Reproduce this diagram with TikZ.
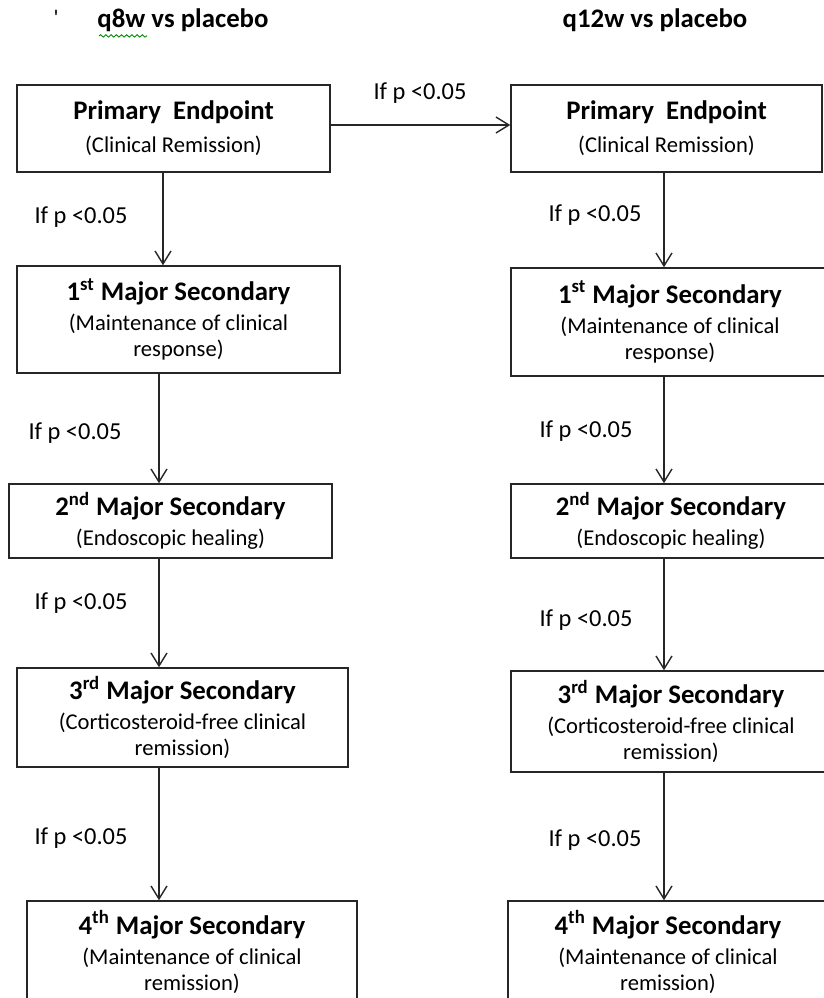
\documentclass[tikz,border=0pt]{standalone}
\usepackage{fontspec}
\setmainfont{Carlito}
\newfontfamily\rawfont{Carlito}[Ligatures=TeXOff]
\usetikzlibrary{arrows.meta,decorations.pathmorphing}
\tikzset{
  box/.style={draw=black!85, line width=0.75pt, inner sep=0pt, align=center,
    font=\fontsize{11.3}{13}\selectfont},
  arr/.style={draw=black!85, line width=0.7pt, -{Straight Barb[length=6.5pt,width=8pt,line width=0.7pt]}},
  lbl/.style={inner sep=0pt, font=\fontsize{12.2}{14}\selectfont},
  ttl/.style={inner sep=0pt, font=\fontsize{13.4}{16}\selectfont\bfseries},
}
\newcommand{\bt}[1]{{\fontsize{13.4}{15}\selectfont\bfseries #1}}
\begin{document}
\begin{tikzpicture}[x=0.5pt,y=-0.5pt]
\useasboundingbox (0,0) rectangle (824,998);
\clip (0,0) rectangle (824,998);
% titles
\node[inner sep=0pt, font=\rawfont\fontsize{11.3}{13}\selectfont] (tick) at (56,18) {'};
\node[ttl] (t1) at (183,20) {q8w vs placebo};
\node[ttl] (t2) at (655,20) {q12w vs placebo};
\draw[green!55!black, line width=0.45pt, decorate, decoration={snake, amplitude=0.6pt, segment length=2.6pt}] (t1.south west) ++(2,4) coordinate (sq1) -- ++(48,0) coordinate (sq2);
% left column
\node[box, minimum width=156.5pt, minimum height=43.5pt] (L0) at (173.5,128.5)
  {\bt{Primary\ \ Endpoint}\\[3.5pt](Clinical Remission)};
\node[box, minimum width=161.5pt, minimum height=53.5pt] (L1) at (178.5,319.5)
  {\bt{1\textsuperscript{st} Major Secondary}\\[2pt](Maintenance of clinical\\response)};
\node[box, minimum width=161.5pt, minimum height=37pt] (L2) at (170.5,521)
  {\bt{2\textsuperscript{nd} Major Secondary}\\[2pt](Endoscopic healing)};
\node[box, minimum width=165.5pt, minimum height=49.5pt] (L3) at (182.5,717.5)
  {\bt{3\textsuperscript{rd} Major Secondary}\\[2pt](Corticosteroid-free clinical\\remission)};
\node[box, minimum width=165pt, minimum height=51pt] (L4) at (192,952)
  {\bt{4\textsuperscript{th} Major Secondary}\\[2pt](Maintenance of clinical\\remission)};
% right column
\node[box, minimum width=155.5pt, minimum height=43.5pt] (R0) at (666.5,128.5)
  {\bt{Primary\ \ Endpoint}\\[3.5pt](Clinical Remission)};
\node[box, minimum width=159pt, minimum height=54pt] (R1) at (670,322)
  {\bt{1\textsuperscript{st} Major Secondary}\\[2pt](Maintenance of clinical\\response)};
\node[box, minimum width=160pt, minimum height=37pt] (R2) at (671,521)
  {\bt{2\textsuperscript{nd} Major Secondary}\\[2pt](Endoscopic healing)};
\node[box, minimum width=160pt, minimum height=50.5pt] (R3) at (671,721.5)
  {\bt{3\textsuperscript{rd} Major Secondary}\\[2pt](Corticosteroid-free clinical\\remission)};
\node[box, minimum width=160pt, minimum height=51pt] (R4) at (668,952)
  {\bt{4\textsuperscript{th} Major Secondary}\\[2pt](Maintenance of clinical\\remission)};
% axis coordinates
\coordinate (axA) at (163,0);
\coordinate (axB) at (159,0);
\coordinate (axR) at (664,0);
\coordinate (hy) at (0,125);
% arrows
\draw[arr] (L0.east |- hy) -- (R0.west |- hy);
\draw[arr] (L0.south -| axA) -- (L1.north -| axA);
\draw[arr] (L1.south -| axB) -- (L2.north -| axB);
\draw[arr] (L2.south -| axB) -- (L3.north -| axB);
\draw[arr] (L3.south -| axB) -- (L4.north -| axB);
\draw[arr] (R0.south -| axR) -- (R1.north -| axR);
\draw[arr] (R1.south -| axR) -- (R2.north -| axR);
\draw[arr] (R2.south -| axR) -- (R3.north -| axR);
\draw[arr] (R3.south -| axR) -- (R4.north -| axR);
% labels
\node[lbl] (h0) at (420,93) {If p <0.05};
\node[lbl] (a1) at (81,217) {If p <0.05};
\node[lbl] (a2) at (75,433) {If p <0.05};
\node[lbl] (a3) at (81,603) {If p <0.05};
\node[lbl] (a4) at (81,838) {If p <0.05};
\node[lbl] (b1) at (595,215) {If p <0.05};
\node[lbl] (b2) at (586,431) {If p <0.05};
\node[lbl] (b3) at (586,620) {If p <0.05};
\node[lbl] (b4) at (595,840) {If p <0.05};
\end{tikzpicture}
\end{document}
